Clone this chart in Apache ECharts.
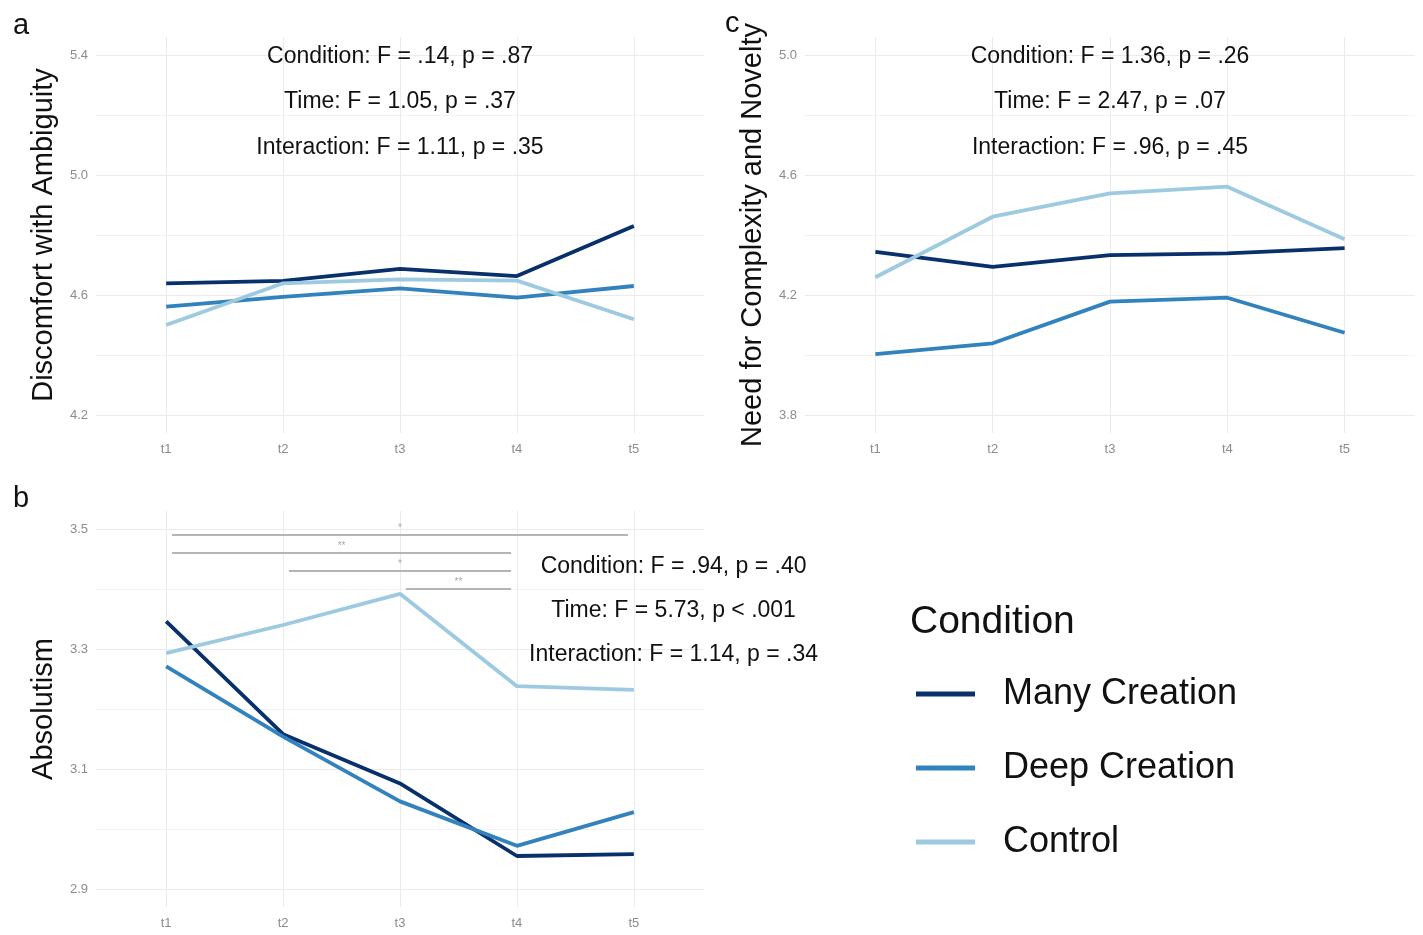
<!DOCTYPE html>
<html><head><meta charset="utf-8">
<script src="https://cdn.jsdelivr.net/npm/echarts@6/dist/echarts.min.js"></script>
<style>html,body{margin:0;padding:0;background:#fff}#chart{width:1423px;height:935px}</style>
</head><body><div id="chart"></div>
<script>
const timePoints = ['t1', 't2', 't3', 't4', 't5'];
const conditions = ['Many Creation', 'Deep Creation', 'Control'];
const conditionColors = ['#08306b', '#3182bd', '#9ecae1'];

const ambiguityMany = [4.639, 4.647, 4.687, 4.663, 4.830];
const ambiguityDeep = [4.561, 4.594, 4.622, 4.591, 4.630];
const ambiguityControl = [4.500, 4.639, 4.652, 4.648, 4.519];

const complexityMany = [4.344, 4.294, 4.333, 4.339, 4.356];
const complexityDeep = [4.003, 4.039, 4.178, 4.191, 4.074];
const complexityControl = [4.259, 4.461, 4.539, 4.561, 4.386];

const absolutismMany = [3.346, 3.158, 3.076, 2.955, 2.958];
const absolutismDeep = [3.271, 3.154, 3.046, 2.972, 3.028];
const absolutismControl = [3.293, 3.340, 3.392, 3.238, 3.232];

const ambiguityTicks = [4.2, 4.6, 5.0, 5.4];
const ambiguityMinor = [4.4, 4.8, 5.2];
const complexityTicks = [3.8, 4.2, 4.6, 5.0];
const complexityMinor = [4.0, 4.4, 4.8];
const absolutismTicks = [2.9, 3.1, 3.3, 3.5];
const absolutismMinor = [3.0, 3.2, 3.4];

const ambiguityStats = ['Condition: F = .14, p = .87', 'Time: F = 1.05, p = .37', 'Interaction: F = 1.11, p = .35'];
const complexityStats = ['Condition: F = 1.36, p = .26', 'Time: F = 2.47, p = .07', 'Interaction: F = .96, p = .45'];
const absolutismStats = ['Condition: F = .94, p = .40', 'Time: F = 5.73, p < .001', 'Interaction: F = 1.14, p = .34'];

const sigFrom = [1, 1, 2, 3];
const sigTo = [5, 4, 4, 4];
const sigLevel = [3.49, 3.46, 3.43, 3.40];
const sigLabel = ['*', '**', '*', '**'];

const FONT = 'Liberation Sans, Arial, sans-serif';
const TEXT = '#111111';

const panels = [
  { name: 'Discomfort with Ambiguity', grid: { left: 96, top: 37, width: 608, height: 396 },
    values: [ambiguityMany, ambiguityDeep, ambiguityControl], ticks: ambiguityTicks, minor: ambiguityMinor,
    stats: ambiguityStats, statX: [3, 3, 3], statY: [5.395, 5.245, 5.092] },
  { name: 'Need for Complexity and Novelty', grid: { left: 805, top: 37, width: 610, height: 396 },
    values: [complexityMany, complexityDeep, complexityControl], ticks: complexityTicks, minor: complexityMinor,
    stats: complexityStats, statX: [3, 3, 3], statY: [4.995, 4.845, 4.692] },
  { name: 'Absolutism', grid: { left: 96, top: 511, width: 608, height: 396 },
    values: [absolutismMany, absolutismDeep, absolutismControl], ticks: absolutismTicks, minor: absolutismMinor,
    stats: absolutismStats, statX: [5.34, 5.34, 5.34], statY: [3.437, 3.364, 3.291], sig: true }
];

const grids = [], xAxes = [], yAxes = [], series = [];
panels.forEach((p, idx) => {
  const t0 = p.ticks[0], tN = p.ticks[p.ticks.length - 1];
  const pad = (tN - t0) * 0.05;
  grids.push(p.grid);
  xAxes.push({
    type: 'value', gridIndex: idx, min: 0.4, max: 5.6,
    axisLine: { show: false }, axisTick: { show: false }, splitLine: { show: false },
    axisLabel: { customValues: [1, 2, 3, 4, 5], formatter: v => timePoints[Math.round(v) - 1] || '',
      margin: 10, fontSize: 13, color: '#8c8c8c', fontFamily: FONT }
  });
  yAxes.push({
    type: 'value', gridIndex: idx, min: t0 - pad, max: tN + pad,
    name: p.name, nameLocation: 'middle', nameGap: 38,
    nameTextStyle: { fontSize: 29, color: TEXT, fontFamily: FONT },
    axisLine: { show: false }, axisTick: { show: false }, splitLine: { show: false },
    axisLabel: { customValues: p.ticks, formatter: v => v.toFixed(1),
      margin: 8, fontSize: 13, color: '#8c8c8c', fontFamily: FONT }
  });
  const gridLines = [];
  p.ticks.forEach(v => gridLines.push({ yAxis: v }));
  p.minor.forEach(v => gridLines.push({ yAxis: v, lineStyle: { color: '#f3f3f3', width: 1 } }));
  timePoints.forEach((t, i) => gridLines.push({ xAxis: i + 1 }));
  series.push({
    type: 'line', xAxisIndex: idx, yAxisIndex: idx, data: [], silent: true, z: 0,
    markLine: { silent: true, z: 1, symbol: ['none', 'none'], animation: false, label: { show: false },
      lineStyle: { color: '#ebebeb', width: 1, type: 'solid' }, emphasis: { disabled: true }, data: gridLines }
  });
  p.values.forEach((vals, k) => {
    series.push({
      type: 'line', name: conditions[k], xAxisIndex: idx, yAxisIndex: idx, z: 3,
      data: vals.map((v, i) => [i + 1, v]), symbol: 'none', animation: false,
      lineStyle: { width: 3.8, color: conditionColors[k] }, itemStyle: { color: conditionColors[k] }
    });
  });
  series.push({
    type: 'scatter', xAxisIndex: idx, yAxisIndex: idx, z: 6, symbolSize: 1, silent: true, animation: false,
    itemStyle: { color: 'rgba(0,0,0,0)' },
    data: p.stats.map((s, i) => ({ value: [p.statX[i], p.statY[i]], label: { formatter: s } })),
    label: { show: true, position: 'inside', fontSize: 23, color: TEXT, fontFamily: FONT,
      textBorderWidth: 0, textBorderColor: 'transparent', opacity: 1 }
  });
  if (p.sig) {
    series.push({
      type: 'line', xAxisIndex: idx, yAxisIndex: idx, data: [], silent: true,
      markLine: { silent: true, symbol: ['none', 'none'], animation: false,
        lineStyle: { color: '#b5b5b5', width: 2, type: 'solid' },
        label: { show: true, position: 'middle', distance: 2, fontSize: 10, color: '#aaaaaa', fontFamily: FONT },
        data: sigFrom.map((f, i) => [
          { coord: [f + 0.05, sigLevel[i]], label: { formatter: sigLabel[i] } },
          { coord: [sigTo[i] - 0.05, sigLevel[i]] }
        ])
      }
    });
  }
});

const chart = echarts.init(document.getElementById('chart'), null, { renderer: 'canvas' });
const panelLabelStyle = { fontSize: 29, fontWeight: 'normal', color: TEXT, fontFamily: FONT };
chart.setOption({
  backgroundColor: '#ffffff',
  animation: false,
  textStyle: { fontFamily: FONT },
  title: [
    { text: 'a', left: 13, top: 11, padding: 0, textStyle: panelLabelStyle },
    { text: 'c', left: 725, top: 9, padding: 0, textStyle: panelLabelStyle },
    { text: 'b', left: 13, top: 484, padding: 0, textStyle: panelLabelStyle },
    { text: 'Condition', left: 910, top: 603, padding: 0, textStyle: { fontSize: 39, fontWeight: 'normal', color: TEXT, fontFamily: FONT } }
  ],
  legend: {
    data: conditions.map(c => ({ name: c, icon: 'rect' })), orient: 'vertical', left: 916, top: 674, padding: 0,
    itemWidth: 59, itemHeight: 5, itemGap: 34, selectedMode: false,
    textStyle: { fontSize: 36, lineHeight: 40, color: TEXT, fontFamily: FONT, padding: [0, 0, 0, 23] }
  },
  grid: grids, xAxis: xAxes, yAxis: yAxes, series: series
});
</script></body></html>
